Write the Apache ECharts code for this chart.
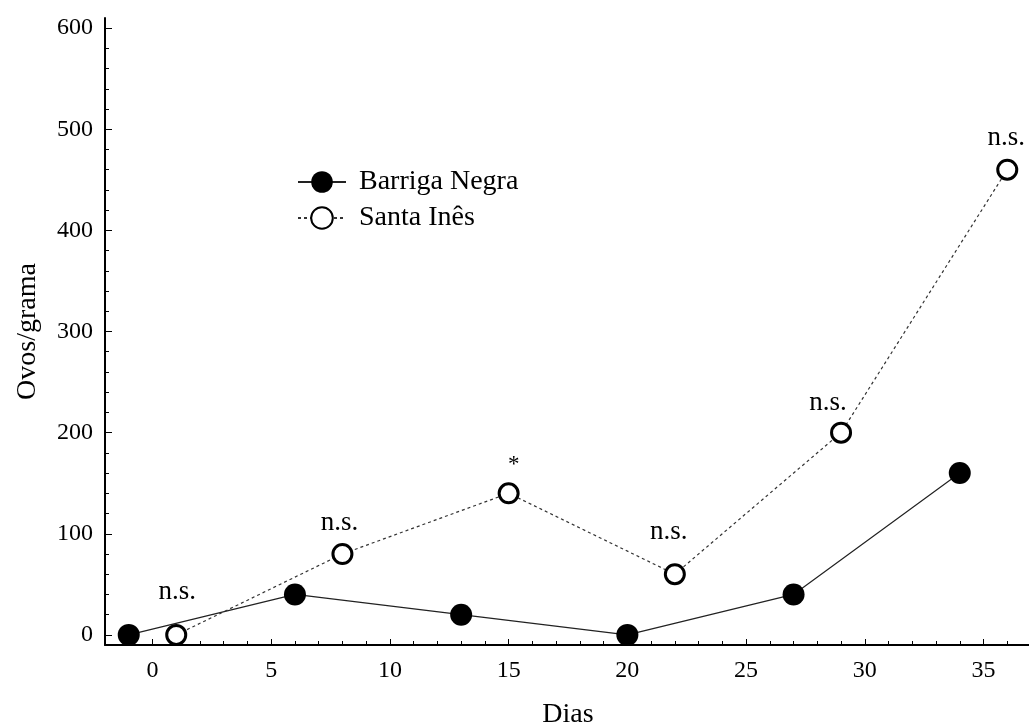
<!DOCTYPE html>
<html>
<head>
<meta charset="utf-8">
<script src="https://cdn.jsdelivr.net/npm/echarts@6/dist/echarts.min.js"></script>
<style>
  html, body { margin: 0; padding: 0; background: #fff; }
  #chart { width: 1029px; height: 724px; }
</style>
</head>
<body>
<div id="chart"></div>
<script>
// Egg counts per gram over the trial days, for two breeds
const barrigaDias = [-1, 6, 13, 20, 27, 34];
const barrigaOvos = [0, 40, 20, 0, 40, 160];
const santaDias = [1, 8, 15, 22, 29, 36];
const santaOvos = [0, 80, 140, 60, 200, 460];
// significance marks shown above the Santa Inês points
const significancia = ['n.s.', 'n.s.', '*', 'n.s.', 'n.s.', 'n.s.'];

const xMajor = [0, 5, 10, 15, 20, 25, 30, 35];
const yMajor = [0, 100, 200, 300, 400, 500, 600];

const FONT = 'Liberation Serif';
const xMinor = [];
for (let v = -1; v <= 36; v++) xMinor.push(v);
const yMinor = [];
for (let v = 0; v <= 600; v += 20) yMinor.push(v);

// per-label nudges so each mark sits where it is printed
const labelOffsets = [[1, -13], [-3, -2], [5, -1], [-6, -13], [-13, 0], [-1, -2]];

const chart = echarts.init(document.getElementById('chart'), null, { renderer: 'canvas' });

const santaData = santaDias.map((d, i) => ({
  value: [d, santaOvos[i]],
  label: {
    show: true,
    formatter: significancia[i],
    position: 'top',
    distance: 5,
    offset: labelOffsets[i],
    fontFamily: FONT,
    fontSize: significancia[i] === '*' ? 23 : 27,
    color: '#000'
  }
}));

const axisText = { fontFamily: FONT, fontSize: 24, color: '#000' };

chart.setOption({
  animation: false,
  backgroundColor: '#fff',
  grid: { left: 105, top: 18, width: 926, height: 627, containLabel: false, outerBoundsMode: 'none' },
  legend: {
    orient: 'vertical',
    left: 292,
    top: 163,
    itemWidth: 48,
    itemHeight: 27,
    itemGap: 8,
    textStyle: { fontFamily: FONT, fontSize: 28, color: '#000', padding: [0, 0, 0, 8] },
    data: ['Barriga Negra', 'Santa Inês']
  },
  xAxis: [
    {
      type: 'value', min: -2, max: 37, position: 'bottom',
      name: 'Dias', nameLocation: 'middle', nameGap: 56,
      nameTextStyle: { fontFamily: FONT, fontSize: 28, color: '#000' },
      axisLine: { show: true, onZero: false, lineStyle: { color: '#000', width: 2 } },
      axisTick: { show: true, inside: true, length: 4, customValues: xMinor, lineStyle: { color: '#000', width: 1 } },
      axisLabel: Object.assign({ customValues: xMajor, margin: 14 }, axisText),
      splitLine: { show: false }
    },
    {
      type: 'value', min: -2, max: 37, position: 'bottom', offset: 0,
      axisLine: { show: false, onZero: false },
      axisTick: { show: true, inside: true, length: 6, customValues: xMajor, lineStyle: { color: '#000', width: 1 } },
      axisLabel: { show: false },
      splitLine: { show: false }
    }
  ],
  yAxis: [
    {
      type: 'value', min: -10, max: 610, position: 'left',
      name: 'Ovos/grama', nameLocation: 'middle', nameGap: 63, nameRotate: 90,
      nameTextStyle: { fontFamily: FONT, fontSize: 28, color: '#000' },
      axisLine: { show: true, onZero: false, lineStyle: { color: '#000', width: 2 } },
      axisTick: { show: true, inside: true, length: 4, customValues: yMinor, lineStyle: { color: '#000', width: 1 } },
      axisLabel: Object.assign({ customValues: yMajor, margin: 12 }, axisText),
      splitLine: { show: false }
    },
    {
      type: 'value', min: -10, max: 610, position: 'left', offset: 0,
      axisLine: { show: false, onZero: false },
      axisTick: { show: true, inside: true, length: 7, customValues: yMajor, lineStyle: { color: '#000', width: 1 } },
      axisLabel: { show: false },
      splitLine: { show: false }
    }
  ],
  series: [
    {
      name: 'Barriga Negra',
      type: 'line',
      xAxisIndex: 0, yAxisIndex: 0,
      data: barrigaDias.map((d, i) => [d, barrigaOvos[i]]),
      symbol: 'circle',
      symbolSize: 22,
      itemStyle: { color: '#000', borderColor: '#000', borderWidth: 0 },
      lineStyle: { color: '#222', width: 1.2, type: 'solid' },
      z: 3
    },
    {
      name: 'Santa Inês',
      type: 'line',
      xAxisIndex: 0, yAxisIndex: 0,
      data: santaData,
      symbol: 'circle',
      symbolSize: 19,
      showAllSymbol: true,
      itemStyle: { color: '#fff', borderColor: '#000', borderWidth: 3 },
      lineStyle: { color: '#333', width: 1.2, type: [3, 3] },
      z: 3
    }
  ]
});
</script>
</body>
</html>
